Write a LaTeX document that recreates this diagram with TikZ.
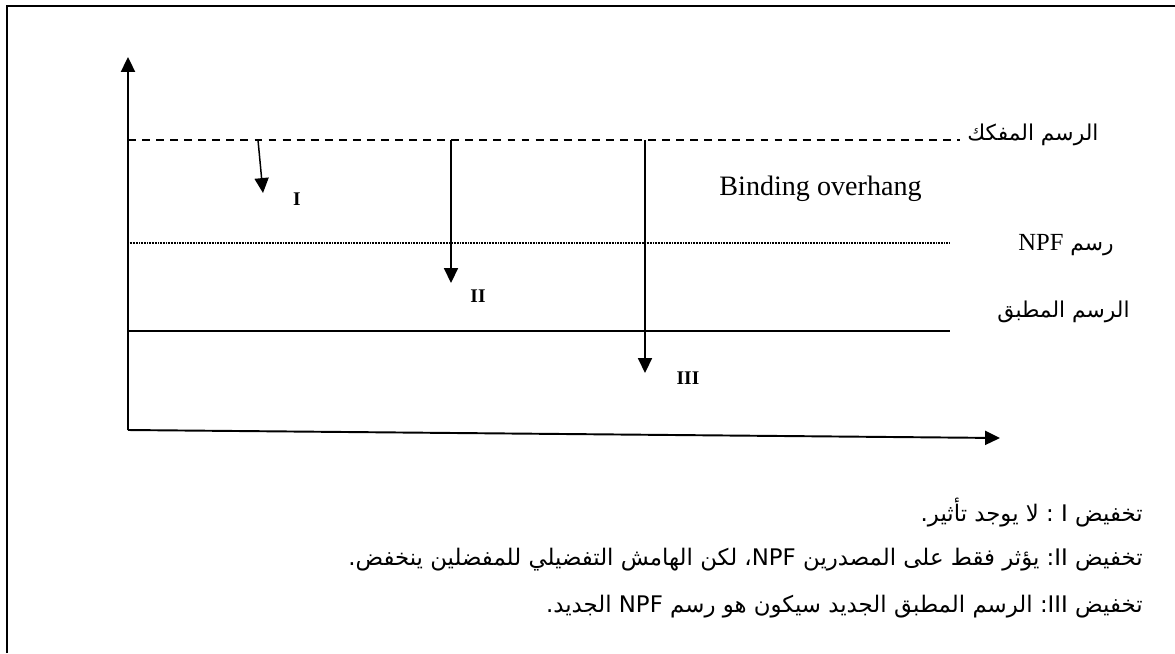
\documentclass[tikz,border=0pt]{standalone}
\usepackage{fontspec}
\setmainfont{Liberation Serif}
\newfontfamily\arabicfont[Script=Arabic]{DejaVu Sans}
\TeXXeTstate=1
\usetikzlibrary{arrows.meta}

\begin{document}
\begin{tikzpicture}
    [x=0.02cm, y=-0.02cm,
     axis/.style={line width=1.1pt, -{Triangle[length=8.5pt, width=8pt]}},
     drop/.style={line width=0.85pt, -{Triangle[length=8.5pt, width=8pt]}},
     level/.style={anchor=west, inner sep=0pt, font=\arabicfont\fontsize{12.4}{15}\selectfont},
     roman/.style={inner sep=0pt, font=\bfseries\fontsize{11}{13}\selectfont},
     note/.style={anchor=east, inner sep=0pt, font=\arabicfont\fontsize{13}{16}\selectfont}]
    \useasboundingbox (0,0) rectangle (1175,653);
    \draw[line width=1.1pt] (7,653) -- (7,6) -- (1175,6);
    % axes
    \coordinate (origin) at (128,430);
    \coordinate (ytop) at (128,57);
    \coordinate (xend) at (1000,438);
    \draw[axis] (origin) -- (ytop);
    \draw[axis] (origin) -- (xend);
    % the three levels
    \draw[line width=0.7pt, dash pattern=on 4.5pt off 3.5pt] (128,140) coordinate (bound) -- (960,140);
    \draw[line width=0.6pt, dash pattern=on 0.5pt off 0.4pt] (128,243) coordinate (npf) -- (950,243);
    \draw[line width=0.7pt] (128,331) coordinate (applied) -- (950,331);
    \node[level] (boundlab) at (967,135) {\beginR الرسم المفكك\endR};
    \node[level] (npflab) at (1018,245) {\beginR رسم {\rmfamily\fontsize{14}{16}\selectfont\beginL NPF\endL}\endR};
    \node[level] (appliedlab) at (997,312) {\beginR الرسم المطبق\endR};
    \node[anchor=base east, inner sep=0pt, font=\fontsize{16}{18}\selectfont] (overhang) at (922,195) {Binding overhang};
    % cuts
    \coordinate (cutItop) at (258,140);
    \coordinate (cutIend) at (263,193);
    \coordinate (cutIItop) at (451,140);
    \coordinate (cutIIend) at (451,283);
    \coordinate (cutIIItop) at (645,140);
    \coordinate (cutIIIend) at (645,373);
    \draw[drop] (cutItop) -- (cutIend);
    \draw[drop] (cutIItop) -- (cutIIend);
    \draw[drop] (cutIIItop) -- (cutIIIend);
    \node[roman] (cutI) at (297,199) {I};
    \node[roman] (cutII) at (478,296) {II};
    \node[roman] (cutIII) at (688,378) {III};
    % notes
    \node[note] (noteI) at (1143,513) {\beginR تخفيض \beginL I\endL{} : لا يوجد تأثير.\endR};
    \node[note] (noteII) at (1143,560) {\beginR تخفيض \beginL II\endL: يؤثر فقط على المصدرين \beginL NPF\endL، لكن الهامش التفضيلي للمفضلين ينخفض.\endR};
    \node[note] (noteIII) at (1143,607) {\beginR تخفيض \beginL III\endL: الرسم المطبق الجديد سيكون هو رسم \beginL NPF\endL{} الجديد.\endR};
\end{tikzpicture}
\end{document}
